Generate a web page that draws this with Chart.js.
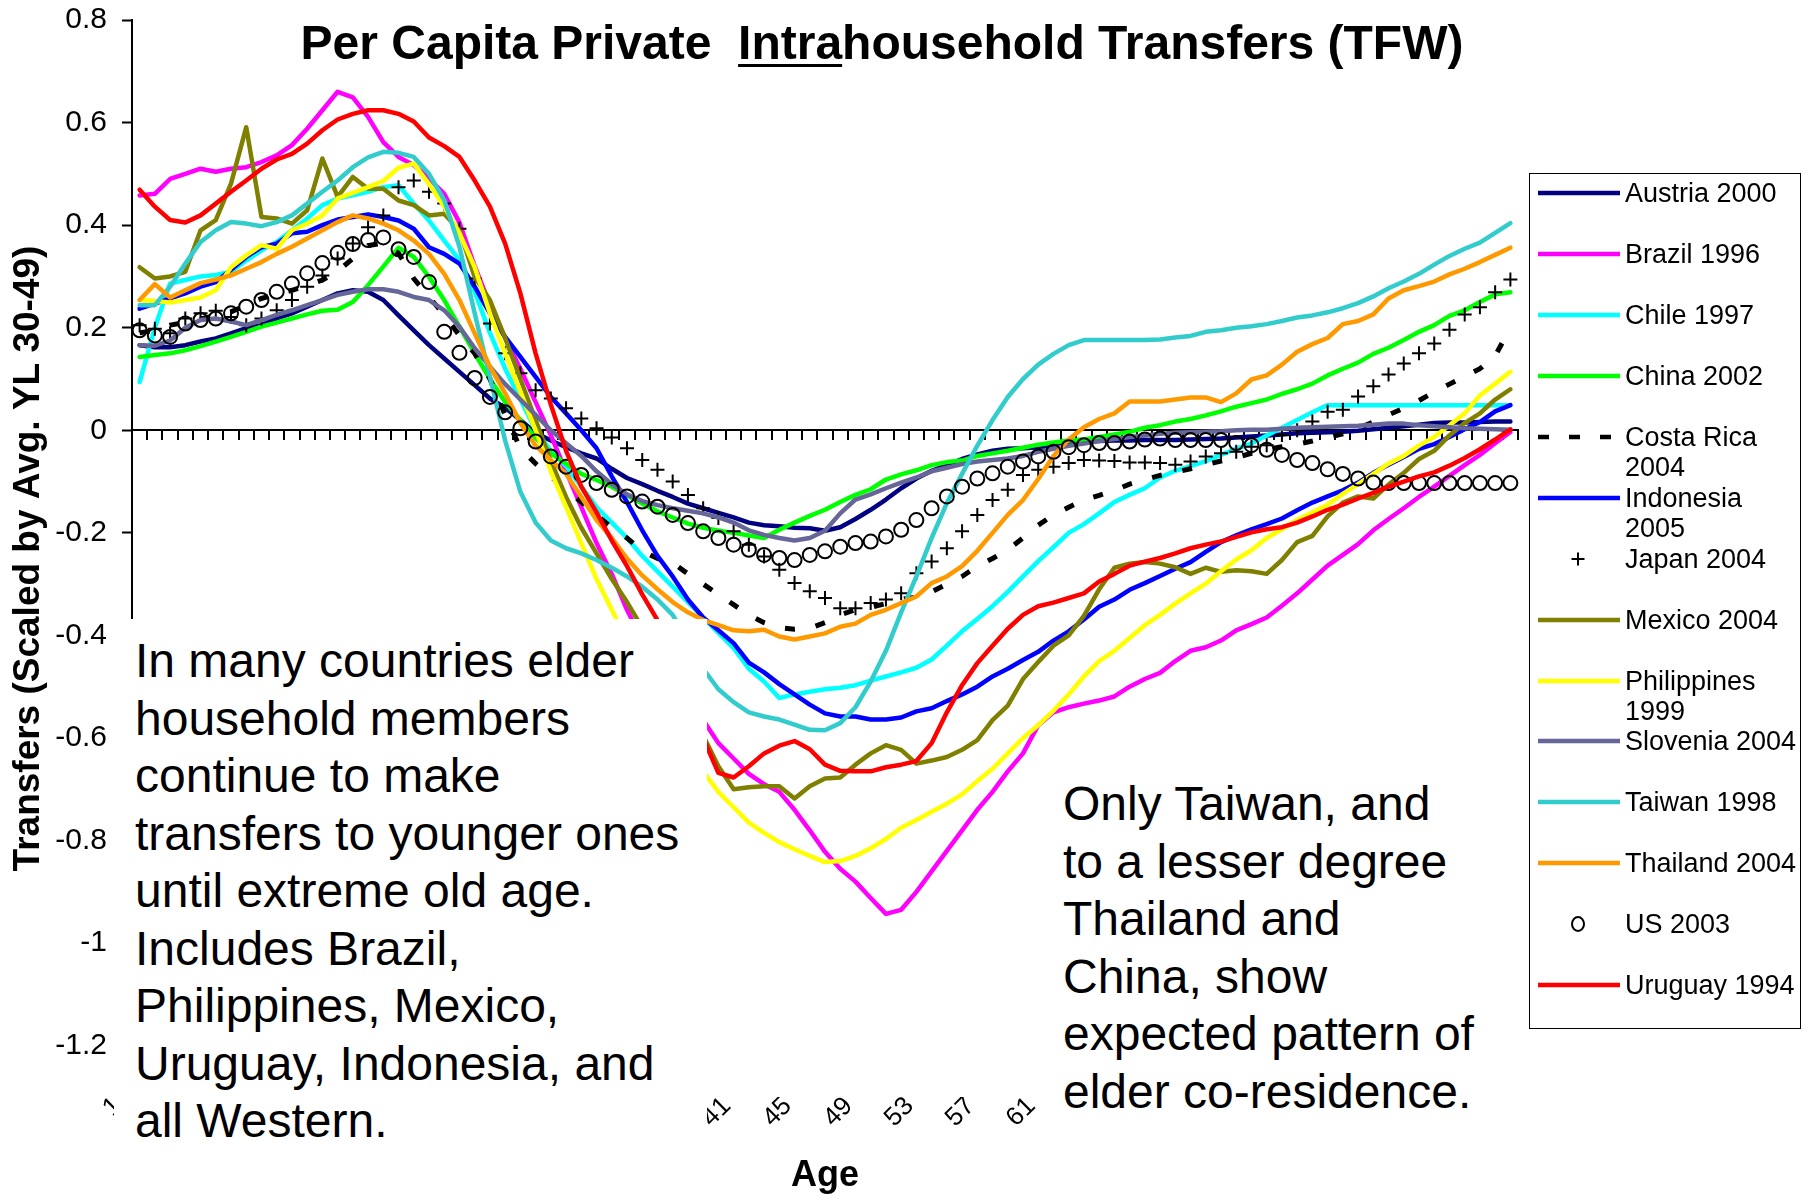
<!DOCTYPE html>
<html>
<head>
<meta charset="utf-8">
<script src="https://cdn.jsdelivr.net/npm/chart.js@4/dist/chart.umd.min.js"></script>
<style>
html,body{margin:0;padding:0;background:#fff;}
#wrap{position:relative;width:1809px;height:1201px;overflow:hidden;background:#fff;font-family:"Liberation Sans",Arial,sans-serif;color:#000;}
#c{position:absolute;left:0;top:0;width:1809px;height:1201px;}
#title{position:absolute;left:882px;top:19px;transform:translateX(-50%);font-weight:bold;font-size:48px;line-height:48px;white-space:nowrap;}
#title u{text-decoration-thickness:3px;text-underline-offset:5px;}
.note{position:absolute;background:#fff;font-size:48px;line-height:57.5px;white-space:nowrap;box-sizing:border-box;}
#note1{left:114px;top:619px;width:593px;height:546px;padding:13px 0 0 21px;}
#note2{left:1050px;top:770px;width:466px;height:395px;padding:5px 0 0 13px;}
#legendBox{position:absolute;left:1529px;top:173px;width:272px;height:856px;border:1.5px solid #000;box-sizing:border-box;background:#fff;}
.lrow{position:absolute;left:1536px;width:265px;height:30px;}
.lrow svg{position:absolute;left:0;top:0;}
.lrow .ltxt{position:absolute;left:89px;top:0;width:180px;font-size:27px;line-height:30px;white-space:normal;}
</style>
</head>
<body>
<div id="wrap">
  <canvas id="c" width="1809" height="1201"></canvas>
  <div id="title">Per Capita Private&nbsp; <u>Intra</u>household Transfers (TFW)</div>
  <div class="note" id="note1">In many countries elder<br>household members<br>continue to make<br>transfers to younger ones<br>until extreme old age.<br>Includes Brazil,<br>Philippines, Mexico,<br>Uruguay, Indonesia, and<br>all Western.</div>
  <div class="note" id="note2">Only Taiwan, and<br>to a lesser degree<br>Thailand and<br>China, show<br>expected pattern of<br>elder co-residence.</div>
  <div id="legendBox"></div>
</div>
<script>
// ---------- categories & tick labels ----------
const ages = ['1','2','3','4','5','6','7','8','9','10','11','12','13','14','15','16','17','18','19','20',
'21','22','23','24','25','26','27','28','29','30','31','32','33','34','35','36','37','38','39','40',
'41','42','43','44','45','46','47','48','49','50','51','52','53','54','55','56','57','58','59','60',
'61','62','63','64','65','66','67','68','69','70','71','72','73','74','75','76','77','78','79','80',
'81','82','83','84','85','86','87','88','89','90','91'];
const shownAgeLabels = ['1','5','9','13','17','21','25','29','33','37','41','45','49','53','57','61','65','69','73','77','81','85','89'];
const yTicks = [0.8,0.6,0.4,0.2,0,-0.2,-0.4,-0.6,-0.8,-1,-1.2];

// ---------- series values ----------
const austria = [0.166,0.162,0.162,0.166,0.173,0.179,0.189,0.199,0.205,0.218,
0.228,0.241,0.254,0.267,0.273,0.27,0.254,0.224,0.195,0.166,
0.14,0.114,0.088,0.062,0.044,0.02,-0.005,-0.02,-0.033,-0.045,
-0.055,-0.075,-0.093,-0.105,-0.118,-0.13,-0.143,-0.152,-0.161,-0.17,
-0.18,-0.185,-0.187,-0.19,-0.191,-0.196,-0.189,-0.173,-0.155,-0.135,
-0.113,-0.094,-0.079,-0.068,-0.056,-0.047,-0.04,-0.036,-0.035,-0.033,
-0.031,-0.024,-0.022,-0.021,-0.02,-0.02,-0.019,-0.019,-0.019,-0.018,
-0.017,-0.016,-0.014,-0.012,-0.01,-0.008,-0.006,-0.005,-0.004,-0.003,
-0.001,0.002,0.005,0.008,0.011,0.014,0.015,0.015,0.016,0.017,
0.017];
const brazil = [0.458,0.461,0.49,0.5,0.51,0.504,0.51,0.513,0.523,0.536,
0.556,0.588,0.624,0.66,0.649,0.611,0.562,0.533,0.517,0.491,
0.461,0.405,0.32,0.245,0.18,0.12,0.055,-0.01,-0.08,-0.15,
-0.22,-0.28,-0.35,-0.41,-0.46,-0.5,-0.535,-0.565,-0.61,-0.64,
-0.67,-0.69,-0.705,-0.74,-0.78,-0.822,-0.855,-0.88,-0.912,-0.943,
-0.935,-0.9,-0.86,-0.82,-0.78,-0.74,-0.705,-0.665,-0.63,-0.575,
-0.55,-0.54,-0.533,-0.527,-0.519,-0.5,-0.485,-0.473,-0.45,-0.43,
-0.423,-0.41,-0.39,-0.378,-0.365,-0.342,-0.318,-0.291,-0.264,-0.243,
-0.222,-0.195,-0.173,-0.152,-0.13,-0.11,-0.089,-0.068,-0.048,-0.025,
-0.003];
const chile = [0.094,0.2,0.286,0.293,0.3,0.303,0.309,0.331,0.351,0.367,
0.39,0.413,0.439,0.452,0.458,0.465,0.474,0.478,0.442,0.409,
0.37,0.332,0.27,0.19,0.12,0.06,0.0,-0.04,-0.07,-0.11,
-0.15,-0.18,-0.21,-0.245,-0.275,-0.305,-0.335,-0.365,-0.395,-0.425,
-0.465,-0.49,-0.522,-0.515,-0.51,-0.505,-0.502,-0.497,-0.488,-0.48,
-0.472,-0.463,-0.447,-0.42,-0.392,-0.368,-0.343,-0.315,-0.285,-0.255,
-0.228,-0.2,-0.183,-0.162,-0.14,-0.126,-0.113,-0.092,-0.079,-0.07,
-0.06,-0.048,-0.036,-0.026,-0.01,0.005,0.02,0.035,0.049,0.049,
0.049,0.049,0.049,0.049,0.049,0.049,0.049,0.049,0.049,0.049,
0.049];
const china = [0.143,0.147,0.15,0.156,0.164,0.173,0.182,0.192,0.202,0.21,
0.218,0.226,0.233,0.235,0.25,0.283,0.319,0.356,0.338,0.299,
0.254,0.202,0.15,0.1,0.055,0.02,-0.015,-0.045,-0.065,-0.085,
-0.097,-0.11,-0.127,-0.143,-0.158,-0.17,-0.182,-0.19,-0.196,-0.2,
-0.205,-0.21,-0.194,-0.18,-0.167,-0.155,-0.14,-0.126,-0.115,-0.096,
-0.086,-0.078,-0.068,-0.062,-0.059,-0.05,-0.045,-0.04,-0.034,-0.028,
-0.024,-0.02,-0.018,-0.013,-0.008,-0.003,0.005,0.01,0.017,0.022,
0.029,0.037,0.046,0.053,0.06,0.071,0.08,0.091,0.107,0.12,
0.132,0.149,0.161,0.176,0.192,0.205,0.223,0.234,0.25,0.265,
0.269];
const costaRica = [0.19,0.195,0.205,0.21,0.217,0.224,0.231,0.244,0.257,0.265,
0.273,0.283,0.293,0.31,0.335,0.36,0.365,0.345,0.296,0.26,
0.225,0.185,0.15,0.1,0.03,-0.035,-0.065,-0.09,-0.115,-0.14,
-0.165,-0.19,-0.21,-0.235,-0.25,-0.258,-0.28,-0.3,-0.32,-0.34,
-0.36,-0.375,-0.385,-0.388,-0.386,-0.375,-0.36,-0.35,-0.345,-0.338,
-0.33,-0.325,-0.315,-0.3,-0.285,-0.265,-0.25,-0.233,-0.21,-0.185,
-0.165,-0.15,-0.136,-0.127,-0.117,-0.105,-0.096,-0.088,-0.082,-0.075,
-0.067,-0.06,-0.053,-0.045,-0.038,-0.032,-0.027,-0.021,-0.014,-0.007,
0.004,0.016,0.03,0.043,0.058,0.075,0.09,0.105,0.12,0.145,
0.2];
const indonesia = [0.237,0.247,0.257,0.267,0.28,0.289,0.313,0.338,0.357,0.364,
0.384,0.387,0.4,0.411,0.416,0.421,0.416,0.409,0.393,0.357,
0.344,0.325,0.28,0.228,0.182,0.143,0.104,0.065,0.033,0.0,
-0.035,-0.09,-0.14,-0.195,-0.245,-0.285,-0.33,-0.365,-0.39,-0.415,
-0.453,-0.472,-0.495,-0.515,-0.535,-0.552,-0.558,-0.558,-0.564,-0.564,
-0.56,-0.548,-0.542,-0.528,-0.515,-0.5,-0.48,-0.465,-0.448,-0.432,
-0.41,-0.392,-0.369,-0.344,-0.33,-0.311,-0.298,-0.284,-0.27,-0.257,
-0.237,-0.218,-0.205,-0.193,-0.183,-0.172,-0.156,-0.141,-0.129,-0.117,
-0.102,-0.083,-0.067,-0.052,-0.036,-0.027,-0.013,0.002,0.016,0.037,
0.049];
const japan = [0.205,0.198,0.189,0.218,0.228,0.233,0.221,0.205,0.218,0.234,
0.254,0.28,0.302,0.335,0.364,0.396,0.419,0.474,0.487,0.465,
0.442,0.393,0.296,0.208,0.15,0.111,0.078,0.062,0.043,0.023,
0.004,-0.014,-0.035,-0.058,-0.077,-0.1,-0.126,-0.152,-0.171,-0.197,
-0.223,-0.246,-0.272,-0.298,-0.314,-0.327,-0.347,-0.347,-0.337,-0.33,
-0.318,-0.279,-0.256,-0.23,-0.197,-0.165,-0.136,-0.116,-0.087,-0.077,
-0.071,-0.064,-0.058,-0.059,-0.06,-0.063,-0.063,-0.064,-0.067,-0.061,
-0.051,-0.045,-0.042,-0.032,-0.029,-0.009,0.0,0.017,0.036,0.04,
0.066,0.086,0.109,0.13,0.15,0.169,0.196,0.226,0.24,0.269,
0.294];
const mexico = [0.318,0.296,0.3,0.309,0.39,0.41,0.481,0.591,0.416,0.413,
0.403,0.429,0.53,0.455,0.494,0.471,0.471,0.448,0.439,0.419,
0.422,0.39,0.299,0.254,0.18,0.1,0.02,-0.06,-0.13,-0.19,
-0.24,-0.29,-0.335,-0.385,-0.44,-0.5,-0.555,-0.595,-0.655,-0.7,
-0.696,-0.694,-0.694,-0.718,-0.694,-0.679,-0.677,-0.652,-0.63,-0.614,
-0.623,-0.65,-0.644,-0.637,-0.623,-0.604,-0.565,-0.537,-0.485,-0.452,
-0.42,-0.4,-0.362,-0.31,-0.268,-0.26,-0.257,-0.26,-0.267,-0.28,
-0.268,-0.276,-0.273,-0.275,-0.28,-0.253,-0.218,-0.206,-0.168,-0.141,
-0.129,-0.133,-0.106,-0.083,-0.056,-0.04,-0.01,0.014,0.033,0.06,
0.08];
const philippines = [0.254,0.252,0.249,0.254,0.259,0.273,0.318,0.341,0.361,0.354,
0.39,0.403,0.419,0.452,0.463,0.474,0.486,0.512,0.52,0.48,
0.436,0.384,0.318,0.228,0.15,0.075,0.0,-0.08,-0.15,-0.22,
-0.29,-0.35,-0.41,-0.46,-0.51,-0.56,-0.61,-0.665,-0.705,-0.735,
-0.765,-0.785,-0.803,-0.817,-0.83,-0.842,-0.84,-0.83,-0.815,-0.797,
-0.775,-0.76,-0.744,-0.728,-0.71,-0.684,-0.66,-0.63,-0.6,-0.575,
-0.547,-0.515,-0.48,-0.45,-0.43,-0.405,-0.38,-0.36,-0.338,-0.318,
-0.299,-0.275,-0.252,-0.234,-0.21,-0.193,-0.175,-0.16,-0.145,-0.124,
-0.105,-0.085,-0.065,-0.05,-0.03,-0.013,0.01,0.033,0.068,0.091,
0.114];
const slovenia = [0.166,0.165,0.175,0.2,0.215,0.218,0.212,0.205,0.215,0.225,
0.234,0.244,0.254,0.264,0.27,0.275,0.275,0.27,0.26,0.254,
0.234,0.202,0.16,0.124,0.09,0.06,0.03,0.0,-0.025,-0.05,
-0.08,-0.105,-0.125,-0.138,-0.146,-0.152,-0.157,-0.162,-0.17,-0.18,
-0.195,-0.204,-0.21,-0.215,-0.21,-0.196,-0.162,-0.135,-0.125,-0.113,
-0.102,-0.092,-0.08,-0.073,-0.066,-0.061,-0.058,-0.055,-0.05,-0.042,
-0.036,-0.03,-0.026,-0.021,-0.017,-0.013,-0.01,-0.007,-0.005,-0.004,
-0.003,-0.002,0.0,0.001,0.001,0.003,0.005,0.006,0.007,0.008,
0.009,0.011,0.013,0.013,0.01,0.008,0.006,0.004,0.003,0.002,
0.001];
const taiwan = [0.244,0.244,0.28,0.325,0.367,0.39,0.406,0.403,0.398,0.406,
0.419,0.442,0.465,0.487,0.513,0.532,0.543,0.541,0.533,0.5,
0.449,0.358,0.228,0.104,-0.02,-0.12,-0.18,-0.215,-0.23,-0.24,
-0.253,-0.268,-0.285,-0.305,-0.33,-0.36,-0.41,-0.465,-0.505,-0.53,
-0.55,-0.558,-0.564,-0.574,-0.584,-0.585,-0.571,-0.54,-0.49,-0.43,
-0.355,-0.285,-0.21,-0.142,-0.085,-0.03,0.02,0.065,0.1,0.128,
0.149,0.166,0.176,0.176,0.176,0.176,0.176,0.177,0.181,0.184,
0.192,0.195,0.2,0.203,0.207,0.213,0.22,0.224,0.23,0.238,
0.248,0.261,0.277,0.29,0.305,0.323,0.34,0.354,0.366,0.385,
0.404];
const thailand = [0.254,0.285,0.259,0.273,0.287,0.294,0.302,0.315,0.328,0.344,
0.358,0.374,0.39,0.406,0.419,0.413,0.403,0.39,0.37,0.344,
0.305,0.254,0.189,0.124,0.072,0.014,-0.03,-0.058,-0.085,-0.13,
-0.175,-0.21,-0.25,-0.283,-0.31,-0.335,-0.355,-0.37,-0.38,-0.39,
-0.392,-0.389,-0.402,-0.408,-0.402,-0.396,-0.383,-0.377,-0.36,-0.35,
-0.337,-0.324,-0.298,-0.285,-0.265,-0.235,-0.2,-0.165,-0.136,-0.095,
-0.05,-0.018,0.006,0.022,0.033,0.056,0.056,0.056,0.06,0.064,
0.064,0.055,0.072,0.099,0.107,0.128,0.153,0.168,0.18,0.207,
0.213,0.226,0.257,0.273,0.281,0.29,0.304,0.315,0.328,0.342,
0.356];
const us = [0.195,0.185,0.182,0.208,0.215,0.218,0.228,0.241,0.254,0.27,
0.286,0.306,0.326,0.346,0.363,0.371,0.376,0.353,0.338,0.289,
0.192,0.151,0.102,0.065,0.035,0.004,-0.022,-0.051,-0.071,-0.087,
-0.103,-0.116,-0.129,-0.139,-0.149,-0.165,-0.181,-0.197,-0.21,-0.223,
-0.233,-0.243,-0.249,-0.253,-0.243,-0.236,-0.227,-0.22,-0.217,-0.207,
-0.194,-0.175,-0.152,-0.129,-0.11,-0.094,-0.084,-0.071,-0.061,-0.051,
-0.042,-0.033,-0.029,-0.025,-0.025,-0.022,-0.018,-0.016,-0.019,-0.019,
-0.019,-0.019,-0.025,-0.029,-0.038,-0.048,-0.058,-0.064,-0.076,-0.085,
-0.094,-0.102,-0.103,-0.103,-0.103,-0.103,-0.103,-0.103,-0.103,-0.103,
-0.103];
const uruguay = [0.469,0.436,0.41,0.405,0.419,0.442,0.465,0.487,0.51,0.528,
0.539,0.559,0.585,0.606,0.617,0.624,0.624,0.617,0.602,0.571,
0.554,0.533,0.487,0.436,0.364,0.267,0.15,0.05,-0.04,-0.11,
-0.16,-0.215,-0.265,-0.32,-0.37,-0.44,-0.52,-0.6,-0.668,-0.677,
-0.655,-0.63,-0.615,-0.606,-0.622,-0.652,-0.664,-0.665,-0.665,-0.657,
-0.652,-0.645,-0.61,-0.55,-0.497,-0.454,-0.42,-0.387,-0.36,-0.343,
-0.336,-0.327,-0.318,-0.295,-0.28,-0.264,-0.256,-0.249,-0.24,-0.23,
-0.223,-0.217,-0.208,-0.199,-0.193,-0.189,-0.18,-0.168,-0.155,-0.145,
-0.133,-0.122,-0.11,-0.1,-0.09,-0.082,-0.069,-0.054,-0.037,-0.018,
0.002];

const seriesNames = ['Austria 2000','Brazil 1996','Chile 1997','China 2002','Costa Rica 2004','Indonesia 2005','Japan 2004','Mexico 2004','Philippines 1999','Slovenia 2004','Taiwan 1998','Thailand 2004','US 2003','Uruguay 1994'];
const seriesValues = [austria,brazil,chile,china,costaRica,indonesia,japan,mexico,philippines,slovenia,taiwan,thailand,us,uruguay];
const seriesColors = ['#000080','#FF00FF','#00FFFF','#00FF00','#000000','#0000FF','#000000','#808000','#FFFF00','#666699','#33CCCC','#FF9900','#000000','#FF0000'];
const seriesKinds = ['line','line','line','line','dash','line','cross','line','line','line','line','line','circle','line'];

// ---------- chart ----------
const FAMILY = '"Liberation Sans", Arial, sans-serif';
Chart.defaults.font.family = FAMILY;
Chart.defaults.color = '#000';

const datasets = seriesNames.map((name, k) => {
  const base = {
    label: name, data: seriesValues[k], xAxisID: 'x', yAxisID: 'y',
    borderColor: seriesColors[k], backgroundColor: seriesColors[k],
    order: seriesNames.length - k, tension: 0
  };
  const kind = seriesKinds[k];
  if (kind === 'line') return Object.assign(base, {borderWidth: 4.5, pointRadius: 0, borderJoinStyle: 'round', borderCapStyle: 'round'});
  if (kind === 'dash') return Object.assign(base, {borderWidth: 5, borderDash: [10, 21], pointRadius: 0, borderCapStyle: 'butt'});
  if (kind === 'cross') return Object.assign(base, {showLine: false, pointStyle: 'cross', pointRadius: 7, pointBorderWidth: 2, pointBorderColor: '#000'});
  return Object.assign(base, {showLine: false, pointStyle: 'circle', pointRadius: 7, pointBorderWidth: 2, pointBorderColor: '#000', pointBackgroundColor: 'rgba(0,0,0,0)'});
});

new Chart(document.getElementById('c'), {
  type: 'line',
  data: {labels: ages, datasets: datasets},
  options: {
    responsive: false, animation: false, devicePixelRatio: 1, events: [],
    layout: {padding: {left: 0, top: 20, right: 291, bottom: 0}},
    plugins: {legend: {display: false}, tooltip: {enabled: false}, title: {display: false}},
    scales: {
      x: {
        type: 'category', labels: ages, offset: true, position: {y: 0},
        grid: {offset: true, drawOnChartArea: false, drawTicks: true, tickLength: 9, tickWidth: 2, tickColor: '#000', color: '#000', lineWidth: 2},
        border: {display: true, color: '#000', width: 2},
        ticks: {display: false, autoSkip: false}
      },
      x2: {
        type: 'category', axis: 'x', labels: ages, offset: true, position: 'bottom',
        grid: {display: false, drawTicks: false},
        border: {display: false},
        ticks: {
          autoSkip: false, minRotation: 45, maxRotation: 45, padding: -6, labelOffset: -22,
          font: {size: 26}, color: '#000',
          callback: (v, i) => shownAgeLabels.includes(ages[i]) ? ages[i] : ''
        },
        title: {display: true, text: 'Age', font: {size: 36, weight: 'bold'}, color: '#000', padding: {top: 0, bottom: 3}},
        afterFit: (s) => { s.height = 104; s.paddingLeft = 0; s.paddingRight = 0; }
      },
      y: {
        type: 'linear', min: -1.3, max: 0.8, position: 'left',
        afterBuildTicks: (s) => { s.ticks = yTicks.map(v => ({value: v})); },
        afterFit: (s) => { s.width = 132; s.paddingTop = 15; s.paddingBottom = 15; },
        grid: {drawOnChartArea: false, drawTicks: true, tickLength: 10, tickWidth: 2, tickColor: '#000', color: '#000'},
        border: {display: true, color: '#000', width: 2},
        ticks: {padding: 15, font: {size: 30}, color: '#000', callback: (v) => String(Math.round(v * 10) / 10)},
        title: {display: true, text: 'Transfers (Scaled by Avg. YL 30-49)', font: {size: 37, weight: 'bold'}, color: '#000', padding: {top: 7, bottom: 0}}
      }
    }
  }
});

// ---------- legend (HTML) ----------
const legendFirstY = 193.3, legendStep = 60.9;
const wrap = document.getElementById('wrap');
function markerSvg(k) {
  const c = seriesColors[k], kind = seriesKinds[k];
  let inner = '';
  if (kind === 'line') inner = `<line x1="2" y1="15" x2="84" y2="15" stroke="${c}" stroke-width="4.6"/>`;
  else if (kind === 'dash') inner = `<line x1="2" y1="15" x2="84" y2="15" stroke="${c}" stroke-width="4.6" stroke-dasharray="11 20"/>`;
  else if (kind === 'cross') inner = `<line x1="35.5" y1="15" x2="48.5" y2="15" stroke="#000" stroke-width="2"/><line x1="42" y1="8.5" x2="42" y2="21.5" stroke="#000" stroke-width="2"/>`;
  else inner = `<ellipse cx="42" cy="15" rx="6" ry="7" fill="none" stroke="#000" stroke-width="2"/>`;
  return `<svg width="86" height="30" viewBox="0 0 86 30">${inner}</svg>`;
}
seriesNames.forEach((name, k) => {
  const row = document.createElement('div');
  row.className = 'lrow';
  row.style.top = (legendFirstY + legendStep * k - 15) + 'px';
  row.innerHTML = markerSvg(k) + `<div class="ltxt">${name}</div>`;
  wrap.appendChild(row);
});
</script>
</body>
</html>
